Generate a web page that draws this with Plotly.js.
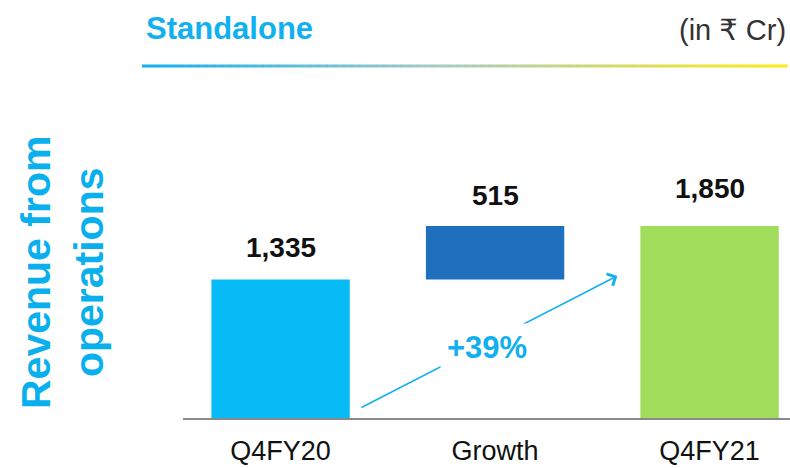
<!DOCTYPE html>
<html>
<head>
<meta charset="utf-8">
<script src="https://cdn.plot.ly/plotly-3.0.1.min.js"></script>
<style>
  html, body { margin: 0; padding: 0; background: #ffffff; }
  #chart { width: 790px; height: 468px; }
</style>
</head>
<body>
<div id="chart"></div>
<script>
// ---- Data ----
const categories = ['Q4FY20', 'Growth', 'Q4FY21'];
const q4fy20 = 1335;
const growth = 515;
const q4fy21 = 1850;
const values = [q4fy20, growth, q4fy21];
const bases = [0, q4fy20, 0];
const valueLabels = ['1,335', '515', '1,850'];
const growthLabel = '+39%';
const chartTitle = 'Standalone';
const unitLabel = '(in \u20B9 Cr)';
const yTitle = 'Revenue from<br>operations';

// ---- Styles ----
const barColors = ['#06BBF6', '#1E6FBE', '#A0DD5A'];
const accent = '#12B0EE';
const labelShift = [32, 31, 38];

const trace = {
  type: 'bar',
  x: categories,
  y: values,
  base: bases,
  marker: { color: barColors, line: { width: 0 } },
  width: 0.645,
  hoverinfo: 'skip'
};

const annotations = [];
categories.forEach((c, i) => {
  annotations.push({
    x: c, y: bases[i] + values[i], xref: 'x', yref: 'y',
    text: '<b>' + valueLabels[i] + '</b>', showarrow: false,
    xanchor: 'center', yanchor: 'middle', yshift: labelShift[i],
    font: { family: 'Liberation Sans, Arial, sans-serif', size: 28, color: '#111111' }
  });
});

// growth arrow (from bottom-right of first bar to left of last bar)
annotations.push({
  x: 1.57, y: 0.74 * q4fy21, xref: 'x', yref: 'y',
  ax: 0.37, ay: 0.07 * q4fy20, axref: 'x', ayref: 'y',
  showarrow: true, arrowhead: 4, arrowsize: 1.6, arrowwidth: 1.6,
  arrowcolor: accent, text: ''
});
annotations.push({
  x: 0.96, y: 0.51 * q4fy20, xref: 'x', yref: 'y',
  text: '<b>' + growthLabel + '</b>', showarrow: false,
  bgcolor: '#ffffff', borderpad: 6,
  font: { family: 'Liberation Sans, Arial, sans-serif', size: 31, color: accent }
});

// header texts
annotations.push({
  xref: 'paper', yref: 'paper', x: 0, y: 1, xshift: -39, yshift: 72,
  xanchor: 'left', yanchor: 'middle', showarrow: false,
  text: '<b>' + chartTitle + '</b>',
  font: { family: 'Liberation Sans, Arial, sans-serif', size: 31, color: accent }
});
annotations.push({
  xref: 'paper', yref: 'paper', x: 1, y: 1, xshift: -2, yshift: 70,
  xanchor: 'right', yanchor: 'middle', showarrow: false,
  text: unitLabel,
  font: { family: 'Liberation Sans, DejaVu Sans, Arial, sans-serif', size: 29, color: '#333333' }
});
// y-axis title
annotations.push({
  xref: 'paper', yref: 'paper', x: 0, y: 0.456, xshift: -120,
  xanchor: 'center', yanchor: 'middle', showarrow: false, textangle: -90,
  text: '<b>' + yTitle + '</b>',
  font: { family: 'Liberation Sans, Arial, sans-serif', size: 41, color: '#0AAFEE' }
});

// gradient rule under header
function lerp(a, b, t) { return Math.round(a + (b - a) * t); }
function hex(h) { return [parseInt(h.slice(1,3),16), parseInt(h.slice(3,5),16), parseInt(h.slice(5,7),16)]; }
const stops = [[0, hex('#12AFEE')], [0.45, hex('#A6CAC6')], [1, hex('#FFEB12')]];
function colorAt(t) {
  for (let k = 0; k < stops.length - 1; k++) {
    const [t0, c0] = stops[k], [t1, c1] = stops[k + 1];
    if (t <= t1) {
      const u = (t - t0) / (t1 - t0);
      return 'rgb(' + lerp(c0[0], c1[0], u) + ',' + lerp(c0[1], c1[1], u) + ',' + lerp(c0[2], c1[2], u) + ')';
    }
  }
  return 'rgb(255,235,18)';
}
const shapes = [];
const gx0 = -41, gx1 = 604, nSeg = 80;
for (let s = 0; s < nSeg; s++) {
  const a = gx0 + (gx1 - gx0) * s / nSeg;
  const b = gx0 + (gx1 - gx0) * (s + 1) / nSeg + 0.6;
  shapes.push({
    type: 'line', xref: 'paper', yref: 'paper',
    xsizemode: 'pixel', xanchor: 0, ysizemode: 'pixel', yanchor: 1,
    x0: a, x1: b, y0: 34, y1: 34,
    line: { color: colorAt((s + 0.5) / nSeg), width: 3 }
  });
}

const layout = {
  width: 790, height: 468,
  margin: { l: 183, r: 0, t: 100, b: 50 },
  paper_bgcolor: '#ffffff', plot_bgcolor: '#ffffff',
  showlegend: false,
  bargap: 0.355,
  xaxis: {
    type: 'category', range: [-0.455, 2.375],
    showline: true, linecolor: '#8a8a8a', linewidth: 2,
    showgrid: false, zeroline: false, ticks: '',
    ticklabelstandoff: 8,
    tickfont: { family: 'Liberation Sans, Arial, sans-serif', size: 27, color: '#111111' }
  },
  yaxis: {
    range: [0, 3064], visible: false, showgrid: false, zeroline: false
  },
  annotations: annotations,
  shapes: shapes
};

Plotly.newPlot('chart', [trace], layout, { displayModeBar: false, staticPlot: true });
</script>
</body>
</html>
